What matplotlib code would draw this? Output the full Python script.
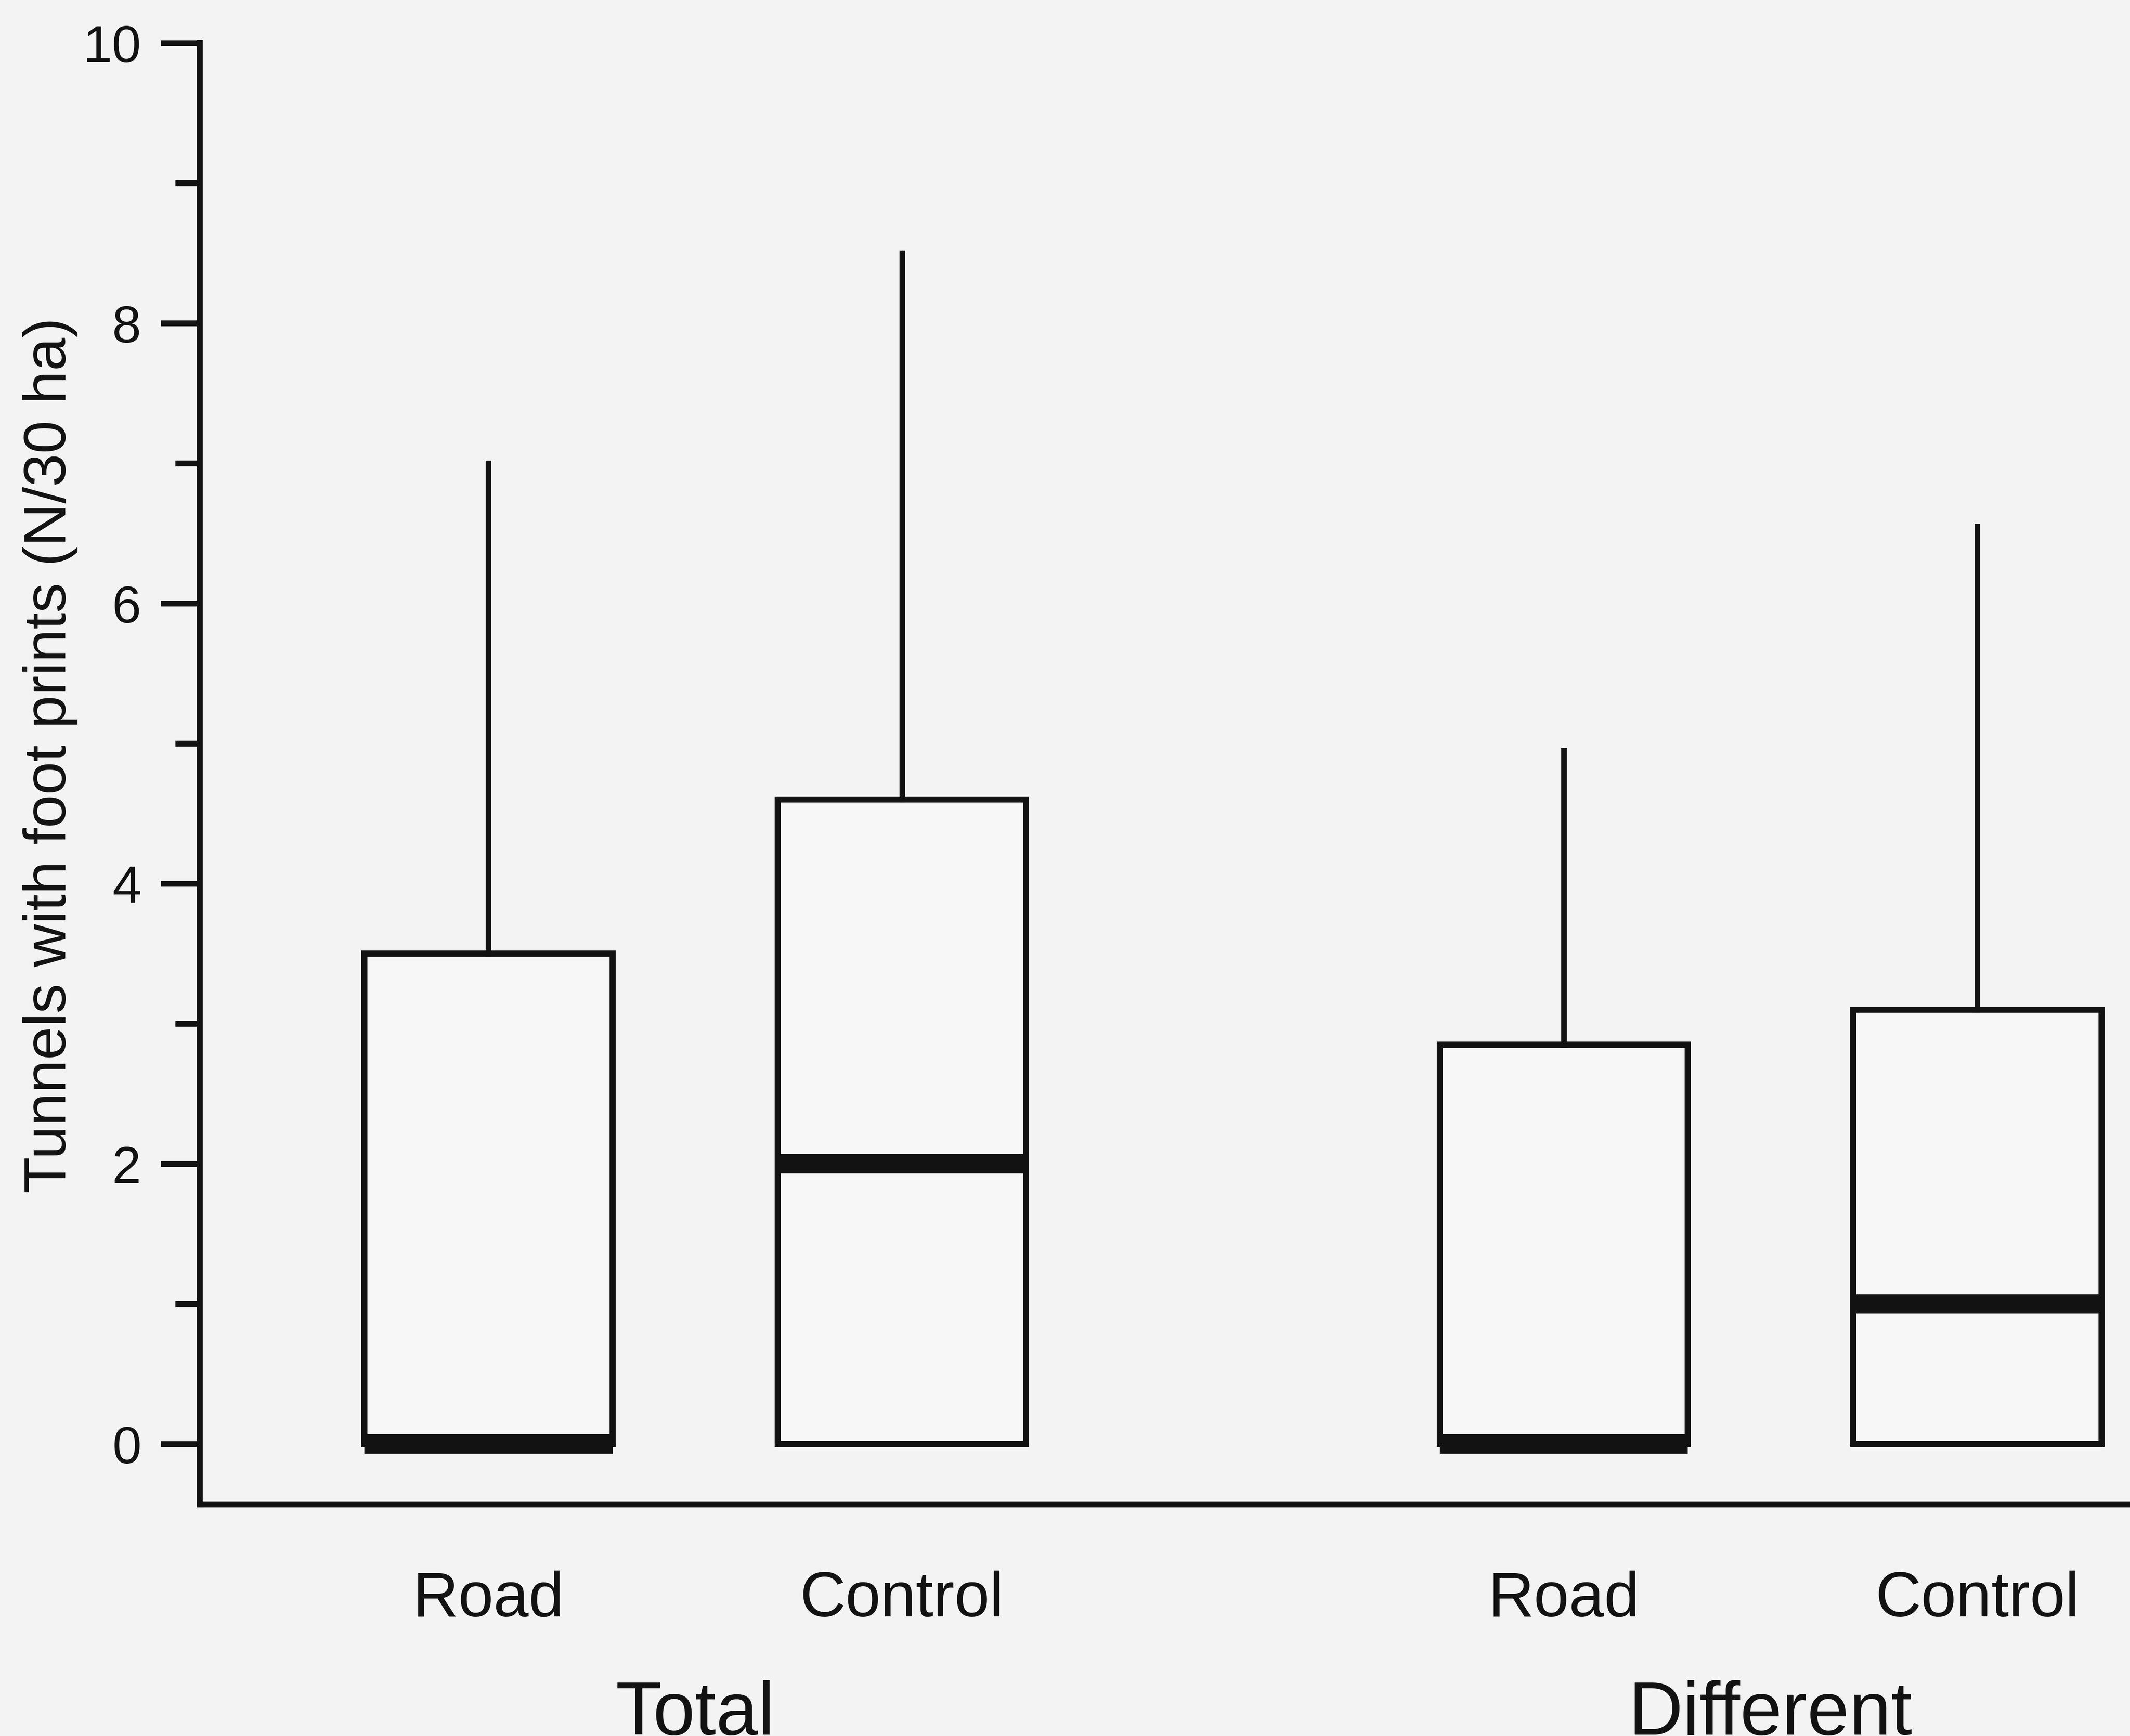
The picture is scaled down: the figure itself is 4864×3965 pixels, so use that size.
import matplotlib
matplotlib.use("Agg")
import matplotlib.pyplot as plt
from matplotlib.ticker import MultipleLocator
import matplotlib.transforms as mtransforms

plt.rcParams["font.family"] = ["Liberation Sans", "DejaVu Sans"]

# tunnels with footprints per 30 ha, summary statistics per plot type
groups = ["Total", "Different"]
sites = ["Road", "Control", "Road", "Control"]
q1 = [0.0, 0.0, 0.0, 0.0]
medians = [0.0, 2.0, 0.0, 1.0]
q3 = [3.5, 4.6, 2.85, 3.1]
whisker_lo = [0.0, 0.0, 0.0, 0.0]
whisker_hi = [7.0, 8.5, 4.95, 6.55]

positions = [1, 2, 3.6, 4.6]
bg = "#f3f3f3"
ink = "#121212"

fig = plt.figure(figsize=(12.16, 9.915), dpi=400, facecolor=bg)
ax = fig.add_axes([456 / 4864, 0.1334, 1 - 456 / 4864, 0.8416])
ax.set_facecolor(bg)

stats = []
for i in range(len(sites)):
    stats.append({
        "med": medians[i], "q1": q1[i], "q3": q3[i],
        "whislo": whisker_lo[i], "whishi": whisker_hi[i], "fliers": [],
    })

ax.bxp(stats, positions=positions, widths=0.6, patch_artist=True,
       showcaps=False, showfliers=False,
       boxprops=dict(facecolor="#f7f7f7", edgecolor=ink, linewidth=2.5),
       whiskerprops=dict(color=ink, linewidth=2.3),
       medianprops=dict(color=ink, linewidth=8, solid_capstyle="butt"))

ax.set_xlim(0.302, 4.969)
ax.set_ylim(-0.43, 10)
ax.yaxis.set_major_locator(MultipleLocator(2))
ax.yaxis.set_minor_locator(MultipleLocator(1))
ax.tick_params(axis="y", which="major", length=16, width=2.4, pad=8,
               labelsize=21.5, colors=ink)
ax.tick_params(axis="y", which="minor", length=10, width=2.4, colors=ink)

ax.set_xticks(positions)
ax.set_xticklabels(sites)
ax.tick_params(axis="x", length=0, pad=27, labelsize=26, colors=ink)

for side in ["top", "right"]:
    ax.spines[side].set_visible(False)
for side in ["left", "bottom"]:
    ax.spines[side].set_linewidth(2.5)
    ax.spines[side].set_color(ink)

trans = mtransforms.blended_transform_factory(ax.transData, fig.transFigure)
for k, name in enumerate(groups):
    xc = (positions[2 * k] + positions[2 * k + 1]) / 2
    ax.text(xc, 0.001, name, transform=trans, ha="center", va="baseline",
            fontsize=31, color=ink)

fig.text(0.0236, 0.565, "Tunnels with foot prints (N/30 ha)", rotation=90,
         ha="center", va="center", fontsize=24.5, color=ink)

fig.savefig("out.png", dpi=400, facecolor=bg)
